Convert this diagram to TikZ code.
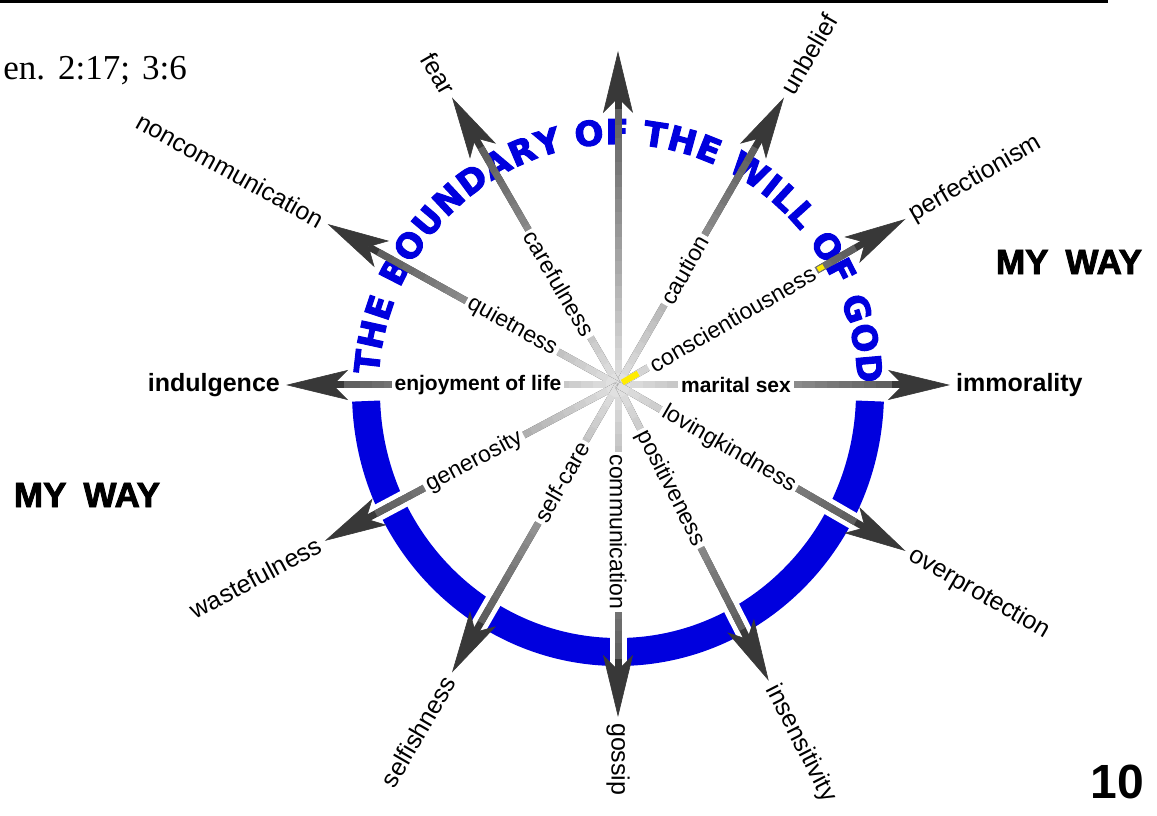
\documentclass[tikz,border=0pt]{standalone}
\usepackage{fontspec}
\setmainfont{Liberation Sans}
\newfontfamily\versefont{Liberation Serif}
\newfontfamily\ringfont{DejaVu Sans}[FakeBold=3]
\newfontfamily\heavyfont{Liberation Sans}[FakeBold=2.5]
\usetikzlibrary{arrows.meta, calc, positioning, decorations.text}
\definecolor{ringBlue}{RGB}{0,0,222}
\definecolor{hubYellow}{RGB}{255,236,0}

\newcommand{\grayRay}[2]{%
  \draw[rayHead] (#1) -- (#2);
  \foreach \k in {0,...,21}{%
    \pgfmathsetmacro{\fa}{\k/27}%
    \pgfmathsetmacro{\fb}{(\k+1.3)/27}%
    \pgfmathsetmacro{\tone}{12+2.4*\k}%
    \draw[rayShaft, black!\tone] ($(#1)!\fa!(#2)$) -- ($(#1)!\fb!(#2)$);
  }%
}

\newcommand{\sinList}{%
  0/0/west/immorality/{\bfseries\fontsize{21}{21}\selectfont marital sex}/118pt/{\bfseries immorality},
  30/30/west/perfectionism/conscientiousness/132pt/perfectionism,
  60/60/west/unbelief/caution/133pt/unbelief,
  120/-60/east/fear/carefulness/117pt/fear,
  151/-29/east/noncommunication/quietness/121pt/noncommunication,
  180/0/east/indulgence/{\bfseries\fontsize{21}{21}\selectfont enjoyment of life}/140pt/{\bfseries indulgence},
  208/28/east/wastefulness/generosity/163pt/wastefulness,
  240/60/east/selfishness/self-care/112pt/selfishness,
  270/-90/west/gossip/communication/147pt/gossip,
  297/-63/west/insensitivity/positiveness/116pt/insensitivity,
  330/-30/west/overprotection/lovingkindness/128pt/overprotection%
}

\begin{document}
\begin{tikzpicture}
        [
        x=1pt, y=1pt,
            virtueLabel/.style={
                fill=white,
                inner sep=3pt,
                font=\fontsize{23}{23}\selectfont
            },
            viceLabel/.style={
                inner sep=1pt,
                font=\fontsize{25}{25}\selectfont
            },
            myWay/.style={
                font=\heavyfont\bfseries\fontsize{35}{35}\selectfont
            },
            ringBand/.style={
                ringBlue,
                line width=28pt
            },
            rayGap/.style={
                white,
                line width=17pt
            },
            rayShaft/.style={
                line width=7pt
            },
            rayHead/.style={
                black!78,
                line width=7pt,
                -{Stealth[length=62pt, width=30pt, inset=15pt, line width=0.6pt]}
            }
        ]
        \useasboundingbox (0,0) rectangle (1157,816);
        \draw[line width=3pt] (0,814.5) -- (1108,814.5);

        \coordinate (hub) at (618,431);
        \coordinate (ringCenter) at (618,424);

        \draw[ringBand] ([shift={(182:252pt and 260pt)}]ringCenter) arc[start angle=182, end angle=358, x radius=252pt, y radius=260pt];

        \coordinate (upTip) at ($(hub)+(90:334pt)$);
        \foreach \ang/\rot/\side/\nm/\virtue/\rin/\vice in \sinList {
            \coordinate (\nm Tip) at ($(hub)+(\ang:332pt)$);
            \draw[rayGap] ($(hub)!0.62!(\nm Tip)$) -- ($(hub)!0.9!(\nm Tip)$);
        }

        \path[decorate, decoration={text along path, text align={fit to path}, text color=ringBlue,
            text={|\ringfont\bfseries\fontsize{34}{34}\selectfont|THE BOUNDARY OF THE WILL OF GOD}}]
            ([shift={(176:240pt and 248pt)}]ringCenter) arc[start angle=176, end angle=2, x radius=240pt, y radius=248pt];

        \grayRay{hub}{upTip}
        \foreach \ang/\rot/\side/\nm/\virtue/\rin/\vice in \sinList {
            \grayRay{hub}{\nm Tip}
        }
        \foreach \ang/\rot/\side/\nm/\virtue/\rin/\vice in \sinList {
            \node (\nm Virtue) [virtueLabel, rotate=\rot] at ($(hub)+(\ang:\rin)$) {\virtue};
            \node (\nm) [viceLabel, rotate=\rot, anchor=\side] at ($(hub)+(\ang:337pt)$) {\vice};
        }

        \draw[hubYellow, line width=6pt] ($(hub)!0.015!(perfectionismTip)$) -- ($(hub)!0.07!(perfectionismTip)$);
        \draw[hubYellow, line width=5pt] ($(hub)!0.695!(perfectionismTip)$) -- ($(hub)!0.715!(perfectionismTip)$);

        \node (verse) [anchor=base east, inner sep=0pt, font=\versefont\fontsize{35}{35}\selectfont] at (187,736) {en.\hspace{13pt}2:17;\hspace{12pt}3:6};
        \node (myWayLeft) [myWay] at (87,321) {MY\hspace{17pt}WAY};
        \node (myWayRight) [myWay] at (1069,554) {MY\hspace{17pt}WAY};
        \node (pageNumber) [font=\bfseries\fontsize{48}{48}\selectfont] at (1117,34) {10};
    \end{tikzpicture}
\end{document}
